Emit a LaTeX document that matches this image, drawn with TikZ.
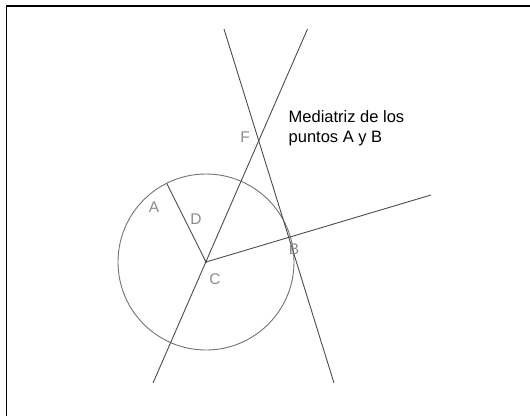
\documentclass[tikz,border=0pt]{standalone}
\usepackage{fontspec}
\setmainfont{Liberation Sans}
\begin{document}
\begin{tikzpicture}[x=1pt,y=-1pt,
  geo/.style={draw=black!70, line width=0.9pt},
  circ/.style={draw=black!55, line width=0.9pt},
  lbl/.style={text=black!45, font=\fontsize{15.5}{18}\selectfont, inner sep=0pt},
  note/.style={text=black, font=\fontsize{16.5}{20}\selectfont, align=left, inner sep=0pt, anchor=west}]
\useasboundingbox (0,0) rectangle (530,416);
% frame (top and left edges only)
\coordinate (fTL) at (6.5,6);
\coordinate (fTR) at (530,6);
\coordinate (fBL) at (6.5,416);
\draw[black, line width=1.6pt] (fTR) -- (fTL) -- (fBL);
% points
\coordinate (C) at (206,262);
\coordinate (A) at (166.7,183.3);
\coordinate (B) at (290.5,238.5);
\coordinate (F) at (257,140);
\coordinate (l1s) at (153,383);
\coordinate (l1e) at (307.5,29);
\coordinate (m1s) at (224,29);
\coordinate (m1e) at (334,383);
\coordinate (r1e) at (431,195);
% circle
\draw[circ] (C) circle[radius=88];
% lines
\draw[geo] (l1s) -- (l1e);
\draw[geo] (m1s) -- (m1e);
\draw[geo] (C) -- (r1e);
\draw[geo] (C) -- (A);
\fill[black!70] (C) circle[radius=1.2];
% labels
\node[lbl] (lA) at (154,207) {A};
\node[lbl] (lD) at (196,219) {D};
\node[lbl] (lC) at (215,279) {C};
\node[lbl] (lB) at (294,249) {B};
\node[lbl] (lF) at (245,137) {F};
\node[note] (txt) at (288.5,128) {Mediatriz de los\\puntos A y B};
\end{tikzpicture}
\end{document}
